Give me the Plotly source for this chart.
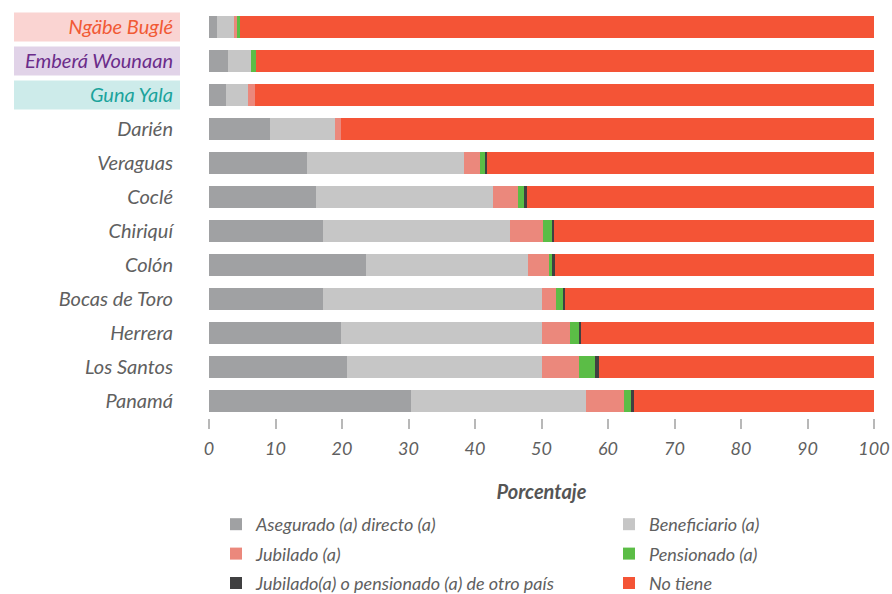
import plotly.graph_objects as go

categories = ["Ngäbe Buglé", "Emberá Wounaan", "Guna Yala", "Darién", "Veraguas", "Coclé",
              "Chiriquí", "Colón", "Bocas de Toro", "Herrera", "Los Santos", "Panamá"]

asegurado    = [1.2, 2.9, 2.6, 9.2, 14.7, 16.1, 17.1, 23.6, 17.1, 19.8, 20.7, 30.3]
beneficiario = [2.7, 3.4, 3.3, 9.7, 23.6, 26.6, 28.2, 24.4, 33.0, 30.3, 29.4, 26.4]
jubilado     = [0.3, 0.0, 1.0, 1.0, 2.4, 3.8, 4.9, 3.1, 2.1, 4.2, 5.5, 5.7]
pensionado   = [0.4, 0.7, 0.0, 0.0, 0.8, 0.9, 1.4, 0.6, 1.0, 1.3, 2.4, 1.1]
otro_pais    = [0.0, 0.0, 0.0, 0.0, 0.3, 0.4, 0.3, 0.3, 0.3, 0.3, 0.6, 0.4]
no_tiene     = [95.4, 93.0, 93.1, 80.1, 58.2, 52.2, 48.1, 48.0, 46.5, 44.1, 41.4, 36.1]

series_names = ["Asegurado (a) directo (a)", "Beneficiario (a)", "Jubilado (a)",
                "Pensionado (a)", "Jubilado(a) o pensionado (a) de otro país", "No tiene"]
series_values = [asegurado, beneficiario, jubilado, pensionado, otro_pais, no_tiene]
series_colors = ["#A0A1A3", "#C6C6C6", "#EB887C", "#5BBD46", "#404041", "#F45436"]
legend_slot = ["legend", "legend2", "legend", "legend2", "legend", "legend2"]

highlight = {"Ngäbe Buglé": ("#F15A35", "#FAD4D2"),
             "Emberá Wounaan": ("#6B2C8A", "#E1D3E8"),
             "Guna Yala": ("#1BA39C", "#CDEBEA")}

text_color = "#606060"
FONT = "Lato"

fig = go.Figure()
for name, vals, col, lg in zip(series_names, series_values, series_colors, legend_slot):
    fig.add_trace(go.Bar(y=categories, x=vals, name=name, orientation="h",
                         marker=dict(color=col, line=dict(width=0)), width=0.65,
                         legend=lg, legendgroup=name))

ticktext = []
for c in categories:
    if c in highlight:
        ticktext.append(f'<span style="color:{highlight[c][0]}">{c}</span>')
    else:
        ticktext.append(c)

shapes = []
for c, (tc, bg) in highlight.items():
    i = categories.index(c)
    shapes.append(dict(type="rect", xref="paper", yref="y",
                       x0=(14 - 209) / 665, x1=(180 - 209) / 665,
                       y0=i - 0.43, y1=i + 0.43, fillcolor=bg,
                       line=dict(width=0), layer="below"))

legend_font = dict(family=FONT, size=18, color=text_color, style="italic")
legend_common = dict(orientation="v", xanchor="left", yanchor="top",
                     xref="paper", yref="container", y=(594 - 506) / 594,
                     font=legend_font, traceorder="grouped", tracegroupgap=3,
                     itemclick=False, bgcolor="rgba(0,0,0,0)")

fig.update_layout(
    width=892, height=594,
    margin=dict(l=209, r=18, t=10, b=176),
    barmode="stack",
    plot_bgcolor="white", paper_bgcolor="white",
    font=dict(family=FONT, color=text_color, size=16, style="italic"),
    shapes=shapes,
    xaxis=dict(range=[0, 100], dtick=10, showgrid=False, zeroline=False,
               showline=False, ticks="outside", ticklen=10, tickcolor="#B8B8B8",
               tickwidth=1.5, automargin=False, ticklabeloverflow="allow",
               ticklabelstandoff=4,
               tickfont=dict(family=FONT, size=18, color=text_color, style="italic"),
               title=dict(text="Porcentaje", standoff=27,
                          font=dict(family=FONT, size=20, color="#555555",
                                    style="italic", weight="bold"))),
    yaxis=dict(categoryorder="array", categoryarray=categories,
               autorange="reversed", showgrid=False, zeroline=False, showline=False,
               tickmode="array", tickvals=categories, ticktext=ticktext,
               ticks="", ticklabelstandoff=35, automargin=False,
               tickfont=dict(family=FONT, size=20, color=text_color, style="italic")),
    legend=dict(x=(216 - 209) / 665, **legend_common),
    legend2=dict(x=(609 - 209) / 665, **legend_common),
    bargap=0.35,
)

fig.write_html("out.html")
